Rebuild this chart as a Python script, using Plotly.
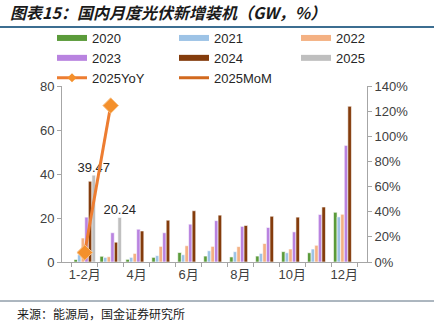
import plotly.graph_objects as go

months = ["1-2月", "3月", "4月", "5月", "6月", "7月", "8月", "9月", "10月", "11月", "12月"]
tick_labels = ["1-2月", "", "4月", "", "6月", "", "8月", "", "10月", "", "12月"]

s2020 = [1.1, 2.6, 1.2, 2.1, 4.3, 2.7, 2.3, 2.7, 4.7, 4.2, 22.6]
s2021 = [3.3, 2.1, 2.1, 2.9, 3.3, 5.1, 4.7, 3.9, 4.2, 5.9, 20.5]
s2022 = [10.9, 2.4, 3.9, 7.1, 7.4, 7.1, 7.0, 8.4, 5.9, 7.6, 21.7]
s2023 = [20.4, 13.3, 14.9, 13.3, 17.2, 18.8, 16.2, 15.7, 13.7, 21.6, 53.0]
s2024 = [36.7, 9.0, 14.1, 19.0, 23.3, 21.3, 16.6, 20.8, 20.4, 25.0, 70.8]
s2025 = [39.47, 20.24, None, None, None, None, None, None, None, None, None]
yoy2025 = [0.075, 1.244, None, None, None, None, None, None, None, None, None]
mom2025 = [None] * 11

series = [
    ("2020", s2020, "#5B9B3A"),
    ("2021", s2021, "#9DC3E6"),
    ("2022", s2022, "#F4B183"),
    ("2023", s2023, "#B983E0"),
    ("2024", s2024, "#843C0C"),
    ("2025", s2025, "#BFBFBF"),
]

W, H = 434, 326
ML, MR, MT, MB = 62, 67, 86, 64
PW, PH = W - ML - MR, H - MT - MB


def px_x(x):
    return (x - ML) / PW


def px_y(y):
    return (H - MB - y) / PH


fig = go.Figure()
for name, vals, col in series:
    is25 = name == "2025"
    fig.add_trace(go.Bar(
        x=months, y=vals, name=name, showlegend=False,
        marker=dict(color=col, line=dict(color="white", width=0.6)),
        text=[("%.2f" % v) if v is not None else "" for v in vals] if is25 else None,
        textposition="outside" if is25 else None,
        constraintext="none",
        textfont=dict(size=13, color="#262626", family="Liberation Sans, Arial"),
        cliponaxis=False,
    ))

fig.add_trace(go.Scatter(
    x=months, y=yoy2025, yaxis="y2", mode="lines+markers", showlegend=False,
    line=dict(color="#ED7D31", width=3),
    marker=dict(symbol="diamond", size=12, color="#F4902C", line=dict(color="#F9C38A", width=1)),
))
fig.add_trace(go.Scatter(
    x=months, y=mom2025, yaxis="y2", mode="lines", showlegend=False,
    line=dict(color="#D2691E", width=3),
))

# legend entries
for name, vals, col in series:
    fig.add_trace(go.Scatter(x=[None], y=[None], mode="lines", name=name,
                             line=dict(color=col, width=6)))
fig.add_trace(go.Scatter(x=[None], y=[None], mode="lines+markers", name="2025YoY",
                         line=dict(color="#ED7D31", width=3),
                         marker=dict(symbol="diamond", size=7, color="#F4902C")))
fig.add_trace(go.Scatter(x=[None], y=[None], mode="lines", name="2025MoM",
                         line=dict(color="#D2691E", width=3)))

axis_font = dict(size=13, color="#404040", family="Liberation Sans, Noto Sans CJK SC")
fig.update_layout(
    width=W, height=H,
    margin=dict(l=ML, r=MR, t=MT, b=MB, autoexpand=False),
    paper_bgcolor="white", plot_bgcolor="white",
    barmode="group", bargap=0.17, bargroupgap=0,
    font=dict(family="Liberation Sans, Noto Sans CJK SC", size=13, color="#404040"),
    xaxis=dict(
        type="category", tickmode="array", tickvals=months, ticktext=tick_labels,
        tickson="boundaries", ticks="outside", ticklen=4, tickcolor="#A6A6A6",
        showline=True, linecolor="#A6A6A6", linewidth=1, showgrid=False,
        tickfont=axis_font, tickangle=0,
    ),
    yaxis=dict(
        range=[0, 80], dtick=20, ticks="outside", ticklen=4, tickcolor="#A6A6A6",
        showline=True, linecolor="#A6A6A6", linewidth=1, showgrid=False, zeroline=False,
        tickfont=axis_font,
    ),
    yaxis2=dict(
        range=[0, 1.4], dtick=0.2, tickformat=".0%", overlaying="y", side="right",
        ticks="outside", ticklen=4, tickcolor="#A6A6A6",
        showline=True, linecolor="#A6A6A6", linewidth=1, showgrid=False, zeroline=False,
        tickfont=axis_font,
    ),
    legend=dict(
        orientation="h", xref="paper", yref="paper",
        x=px_x(52), y=px_y(23), xanchor="left", yanchor="top",
        entrywidth=77, itemwidth=30, font=dict(size=13, color="#262626"),
        bgcolor="rgba(0,0,0,0)", tracegroupgap=0,
    ),
    shapes=[
        dict(type="line", xref="paper", yref="paper", x0=px_x(0), x1=px_x(W),
             y0=px_y(27), y1=px_y(27), line=dict(color="#3C6E91", width=2)),
        dict(type="line", xref="paper", yref="paper", x0=px_x(0), x1=px_x(W),
             y0=px_y(301), y1=px_y(301), line=dict(color="#5A6E80", width=1)),
    ],
    annotations=[
        dict(text="<b>图表15：国内月度光伏新增装机（GW，%）</b>", xref="paper", yref="paper",
             x=px_x(8), y=px_y(12), xanchor="left", yanchor="middle",
             showarrow=False, font=dict(size=16, color="#1a1a1a", family="Noto Sans CJK SC", style="italic")),
        dict(text="来源：能源局，国金证券研究所", xref="paper", yref="paper",
             x=px_x(15), y=px_y(313), xanchor="left", yanchor="middle",
             showarrow=False, font=dict(size=12, color="#1a1a1a", family="Noto Sans CJK SC")),
    ],
)

fig.write_html("out.html")
